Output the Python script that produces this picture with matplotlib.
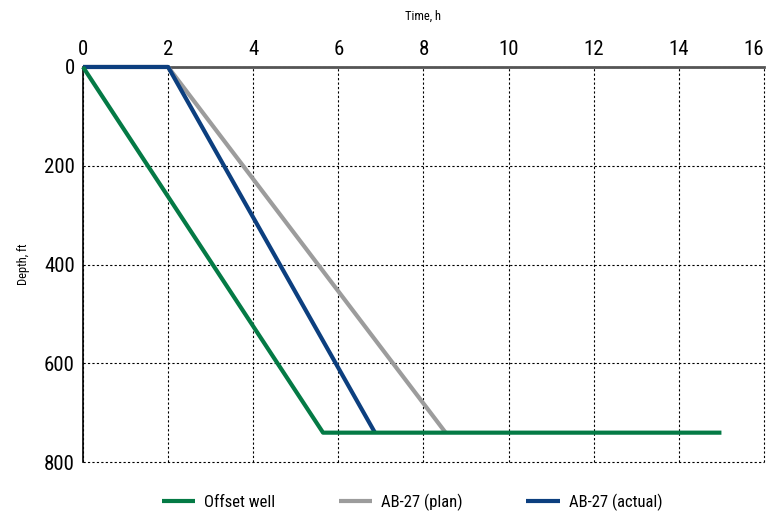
import matplotlib
matplotlib.use("Agg")
import matplotlib.pyplot as plt
from matplotlib import font_manager

ttf = font_manager.fontManager.ttflist
names = {f.name for f in ttf}
cond = None
for cand in ["Roboto Condensed", "Liberation Sans Narrow", "Open Sans Condensed", "DejaVu Sans Condensed"]:
    if cand in names:
        cond = cand
        break
stretch = "normal"
if cond is None:
    for f in ttf:
        if f.name == "DejaVu Sans" and f.stretch in ("condensed", "semi-condensed") and f.style == "normal" and f.weight in (400, "normal"):
            cond = "DejaVu Sans"
            stretch = "condensed"
            break
if cond is None:
    cond = "Roboto"
plt.rcParams['font.family'] = [cond, "DejaVu Sans"]
plt.rcParams['font.stretch'] = stretch

# Data
offset_time = [0, 5.64, 15]
offset_depth = [0, 740, 740]
plan_time = [0, 2, 8.52]
plan_depth = [0, 0, 740]
actual_time = [0, 2, 6.86]
actual_depth = [0, 0, 740]
labels = ["Offset well", "AB-27 (plan)", "AB-27 (actual)"]
xticks = [0, 2, 4, 6, 8, 10, 12, 14, 16]
yticks = [0, 200, 400, 600, 800]

fig = plt.figure(figsize=(7.69, 5.18), dpi=100)
ax = fig.add_axes([0.1079, 0.1075, 0.8856, 0.7632])

l1, = ax.plot(offset_time, offset_depth, color="#047a45", lw=3, zorder=5, solid_capstyle="butt", clip_on=False, label=labels[0])
l2, = ax.plot(plan_time, plan_depth, color="#9c9c9c", lw=3, zorder=3, solid_capstyle="butt", clip_on=False, label=labels[1])
l3, = ax.plot(actual_time, actual_depth, color="#0c3f7f", lw=3, zorder=4, solid_capstyle="butt", clip_on=False, label=labels[2])

ax.set_xlim(0, 16)
ax.set_ylim(800, 0)
ax.set_xticks(xticks)
ax.set_yticks(yticks)
ax.xaxis.tick_top()
ax.xaxis.set_label_position("top")
ax.tick_params(axis="both", length=0, labelsize=15, pad=6)
ax.set_xlabel("Time, h", fontsize=9, labelpad=14)
ax.set_ylabel("Depth, ft", fontsize=9, labelpad=10)
xt = ax.get_xticklabels()
xt[-1].set_horizontalalignment("right")
xt[-1].set_x(16.25)

ax.grid(True, color="black", lw=0.8, linestyle=(0, (2, 2)))
for gl in ax.get_xgridlines() + ax.get_ygridlines():
    gl.set_clip_on(False)
for s in ["right", "bottom"]:
    ax.spines[s].set_visible(False)
ax.spines["top"].set_color("#555555")
ax.spines["top"].set_linewidth(2)
ax.spines["top"].set_zorder(2.5)
ax.spines["left"].set_color("black")
ax.spines["left"].set_linewidth(1.2)
ax.spines["left"].set_zorder(2.5)

fig.legend(handles=[l1, l2, l3], loc="center", bbox_to_anchor=(0.536, 0.031), ncol=3,
           frameon=False, fontsize=12, handlelength=2.0, columnspacing=3.8, handletextpad=0.55)

fig.savefig("out.png", dpi=100)
